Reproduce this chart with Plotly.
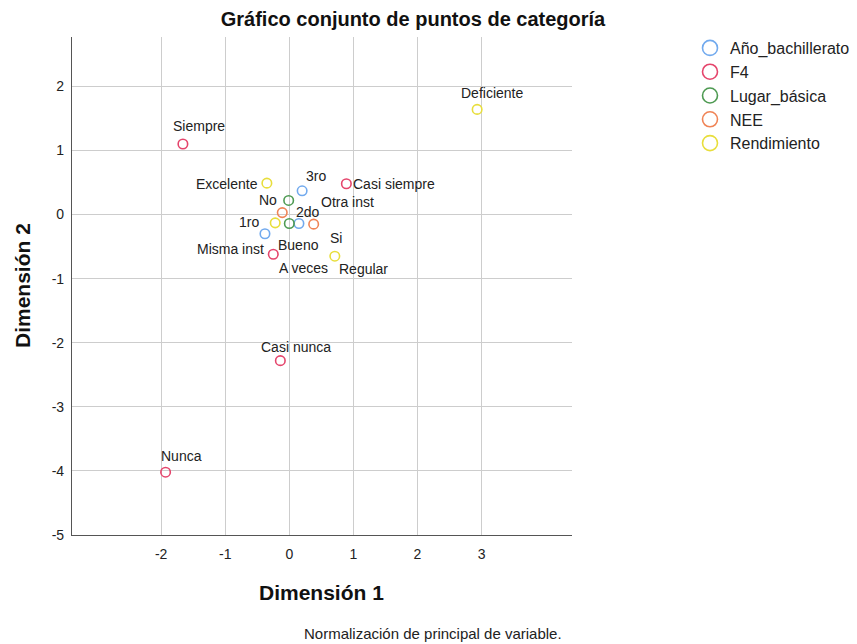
import plotly.graph_objects as go

# ---------------- data ----------------
series_names = ["Año_bachillerato", "F4", "Lugar_básica", "NEE", "Rendimiento"]

ano_labels = ["3ro", "2do", "1ro"]
ano_x = [0.20, 0.15, -0.38]
ano_y = [0.37, -0.14, -0.30]

f4_labels = ["Siempre", "Casi siempre", "A veces", "Casi nunca", "Nunca"]
f4_x = [-1.66, 0.89, -0.25, -0.14, -1.93]
f4_y = [1.10, 0.48, -0.62, -2.28, -4.02]

lugar_labels = ["Otra inst", "Misma inst"]
lugar_x = [-0.01, 0.00]
lugar_y = [0.22, -0.14]

nee_labels = ["No", "Si"]
nee_x = [-0.11, 0.38]
nee_y = [0.03, -0.15]

rend_labels = ["Excelente", "Bueno", "Regular", "Deficiente"]
rend_x = [-0.35, -0.22, 0.71, 2.93]
rend_y = [0.49, -0.13, -0.65, 1.64]

x_ticks = [-2, -1, 0, 1, 2, 3]
y_ticks = [-5, -4, -3, -2, -1, 0, 1, 2]

# ---------------- styles ----------------
colors = ["#72aaee", "#e5456c", "#4e9a52", "#f08456", "#e8de3c"]
FONT = "Liberation Sans, Arial, sans-serif"

# label placement: (xanchor, xshift px, yshift px)
label_style = {
    "3ro": ("center", 14, 15),
    "2do": ("center", 9, 12),
    "1ro": ("center", -16, 12),
    "Siempre": ("center", 16, 18),
    "Casi siempre": ("left", 5, 0),
    "A veces": ("center", 30, -14),
    "Casi nunca": ("center", 16, 14),
    "Nunca": ("center", 16, 16),
    "Otra inst": ("left", 30, -2),
    "Misma inst": ("right", -23, -25),
    "No": ("center", -14, 13),
    "Si": ("center", 22, -14),
    "Excelente": ("right", -7, -1),
    "Bueno": ("center", 23, -22),
    "Regular": ("center", 29, -13),
    "Deficiente": ("center", 15, 16),
}

groups = [
    (ano_labels, ano_x, ano_y),
    (f4_labels, f4_x, f4_y),
    (lugar_labels, lugar_x, lugar_y),
    (nee_labels, nee_x, nee_y),
    (rend_labels, rend_x, rend_y),
]

W, H = 857, 644
ML, MR, MT, MB = 72, 285, 37, 109
pw, ph = W - ML - MR, H - MT - MB


def px_to_paper(px, py):
    return (px - ML) / pw, (H - MB - py) / ph


fig = go.Figure()
annotations = []
for name, color, (labs, xs, ys) in zip(series_names, colors, groups):
    fig.add_trace(go.Scatter(
        x=xs, y=ys, mode="markers", name=name, showlegend=False,
        marker=dict(symbol="circle-open", size=9.5, color=color,
                    line=dict(width=1.6, color=color)),
        hoverinfo="text", text=labs,
    ))
    # legend-only entry with bigger symbol
    fig.add_trace(go.Scatter(
        x=[None], y=[None], mode="markers", name=name, showlegend=True,
        marker=dict(symbol="circle-open", size=15, color=color,
                    line=dict(width=1.6, color=color)),
    ))
    for lab, xv, yv in zip(labs, xs, ys):
        xa, xs_, ys_ = label_style[lab]
        annotations.append(dict(
            x=xv, y=yv, xref="x", yref="y", text=lab, showarrow=False,
            xanchor=xa, yanchor="middle", xshift=xs_, yshift=ys_,
            font=dict(family=FONT, size=14, color="#222222"),
        ))

ax1x, ax1y = px_to_paper(321, 592)
ax2x, ax2y = px_to_paper(22, 286)
fnx, fny = px_to_paper(433, 633)
annotations += [
    dict(text="<b>Dimensión 1</b>", x=ax1x, y=ax1y,
         xref="paper", yref="paper", showarrow=False,
         xanchor="center", yanchor="middle",
         font=dict(family=FONT, size=21, color="#111111")),
    dict(text="<b>Dimensión 2</b>", x=ax2x, y=ax2y, xref="paper", yref="paper",
         showarrow=False, textangle=-90, xanchor="center", yanchor="middle",
         font=dict(family=FONT, size=21, color="#111111")),
    dict(text="Normalización de principal de variable.", x=fnx, y=fny,
         xref="paper", yref="paper", showarrow=False,
         xanchor="center", yanchor="middle",
         font=dict(family=FONT, size=15, color="#222222")),
]

fig.update_layout(
    width=W, height=H,
    margin=dict(l=ML, r=MR, t=MT, b=MB, pad=0),
    paper_bgcolor="white", plot_bgcolor="white",
    title=dict(text="<b>Gráfico conjunto de puntos de categoría</b>",
               x=413 / W, xanchor="center", y=1 - 19 / H, yanchor="middle",
               xref="container", yref="container",
               font=dict(family=FONT, size=20, color="#111111")),
    font=dict(family=FONT),
    annotations=annotations,
    legend=dict(
        xref="container", yref="container",
        x=(710 - 20) / W, xanchor="left",
        y=1 - 31 / H, yanchor="top",
        font=dict(family=FONT, size=16, color="#222222"),
        bgcolor="rgba(0,0,0,0)", borderwidth=0, tracegroupgap=0,
    ),
    xaxis=dict(
        range=[-3.39, 4.41], tickvals=x_ticks, ticktext=[str(v) for v in x_ticks],
        showgrid=True, gridcolor="#cdcdcd", gridwidth=1.2,
        zeroline=False, showline=True, linecolor="#555555", linewidth=1.2,
        ticks="", ticklabelstandoff=6,
        tickfont=dict(family=FONT, size=14, color="#222222"),
    ),
    yaxis=dict(
        range=[-5, 2.77], tickvals=y_ticks, ticktext=[str(v) for v in y_ticks],
        showgrid=True, gridcolor="#cdcdcd", gridwidth=1.2,
        zeroline=False, showline=True, linecolor="#555555", linewidth=1.2,
        ticks="", ticklabelstandoff=4,
        tickfont=dict(family=FONT, size=14, color="#222222"),
    ),
)

fig.write_html(
    "out.html",
    config={"displayModeBar": False},
    post_script="document.body.style.margin='0';document.body.style.overflow='hidden';",
)
